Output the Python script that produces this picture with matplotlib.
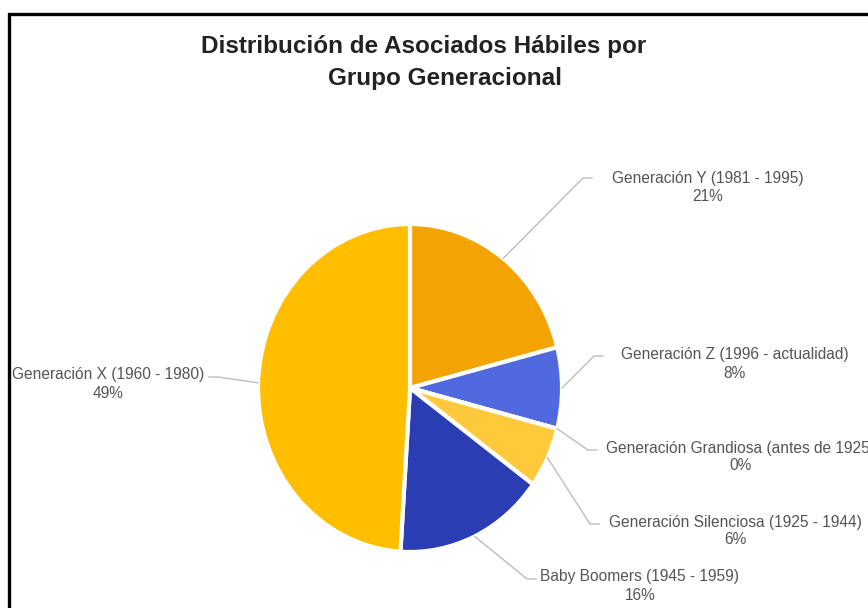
import matplotlib
matplotlib.use("Agg")
import matplotlib.pyplot as plt
from matplotlib.lines import Line2D
from matplotlib.patches import Rectangle
import numpy as np

plt.rcParams['font.family'] = ['Liberation Sans', 'DejaVu Sans']

# data
groups = ["Generación Y (1981 - 1995)", "Generación Z (1996 - actualidad)",
          "Generación Grandiosa (antes de 1925)", "Generación Silenciosa (1925 - 1944)",
          "Baby Boomers (1945 - 1959)", "Generación X (1960 - 1980)"]
shares = [21, 8, 0, 6, 16, 49]
colors = ["#F4A402", "#5169DE", "#E06666", "#FFC93C", "#2B3DB3", "#FFBF00"]

# label layout in pixels (elbow x, elbow y, text x, text y, side)
label_pos = [(583, 178, 708, 178, 'r'),
             (594, 356, 735, 355, 'r'),
             (588, 450, 740, 448, 'r'),
             (590, 524, 735, 522, 'r'),
             (527, 579, 640, 577, 'r'),
             (218, 377, 108, 375, 'l')]

W, H = 868, 608
fig = plt.figure(figsize=(W / 100, H / 100), dpi=100)


def fx(x, y):
    return x / W, 1 - y / H


fig.add_artist(Rectangle(fx(9, 640), 900 / W, 626 / H, transform=fig.transFigure,
                         fill=False, edgecolor='black', linewidth=2.4))

fig.text(*fx(424, 47), "Distribución de Asociados Hábiles por", ha='center', va='center',
         fontsize=17.5, fontweight='bold', color='#222222')
fig.text(*fx(445, 78), "Grupo Generacional", ha='center', va='center',
         fontsize=17.5, fontweight='bold', color='#222222')

ax = fig.add_axes([258 / W, (H - 552) / H, 304 / W, 328 / H])
wedges, _ = ax.pie(shares, colors=colors, startangle=90, counterclock=False, radius=1,
                   wedgeprops=dict(edgecolor='white', linewidth=3))
ax.set_aspect('auto')
ax.set_xlim(-1, 1)
ax.set_ylim(-1, 1)
ax.axis('off')
fig.canvas.draw()

cum = 0
for name, v, (ex, ey, tx, ty, side) in zip(groups, shares, label_pos):
    mid = 90 - 360 * (cum + v / 2) / 100
    cum += v
    px, py = ax.transData.transform((np.cos(np.radians(mid)), np.sin(np.radians(mid))))
    ax_y = H - py
    end = ex + 9 if side == 'r' else ex - 9
    xs = [px / W, ex / W, end / W]
    ys = [1 - ax_y / H, 1 - ey / H, 1 - ey / H]
    fig.add_artist(Line2D(xs, ys, transform=fig.transFigure, color='#BDBDBD', linewidth=1))
    fig.text(*fx(tx, ty), name, ha='center', va='center', fontsize=11.2, color='#555555')
    fig.text(*fx(tx, ty + 18), f"{v}%", ha='center', va='center', fontsize=11.2, color='#555555')

fig.savefig("out.png", dpi=100)
